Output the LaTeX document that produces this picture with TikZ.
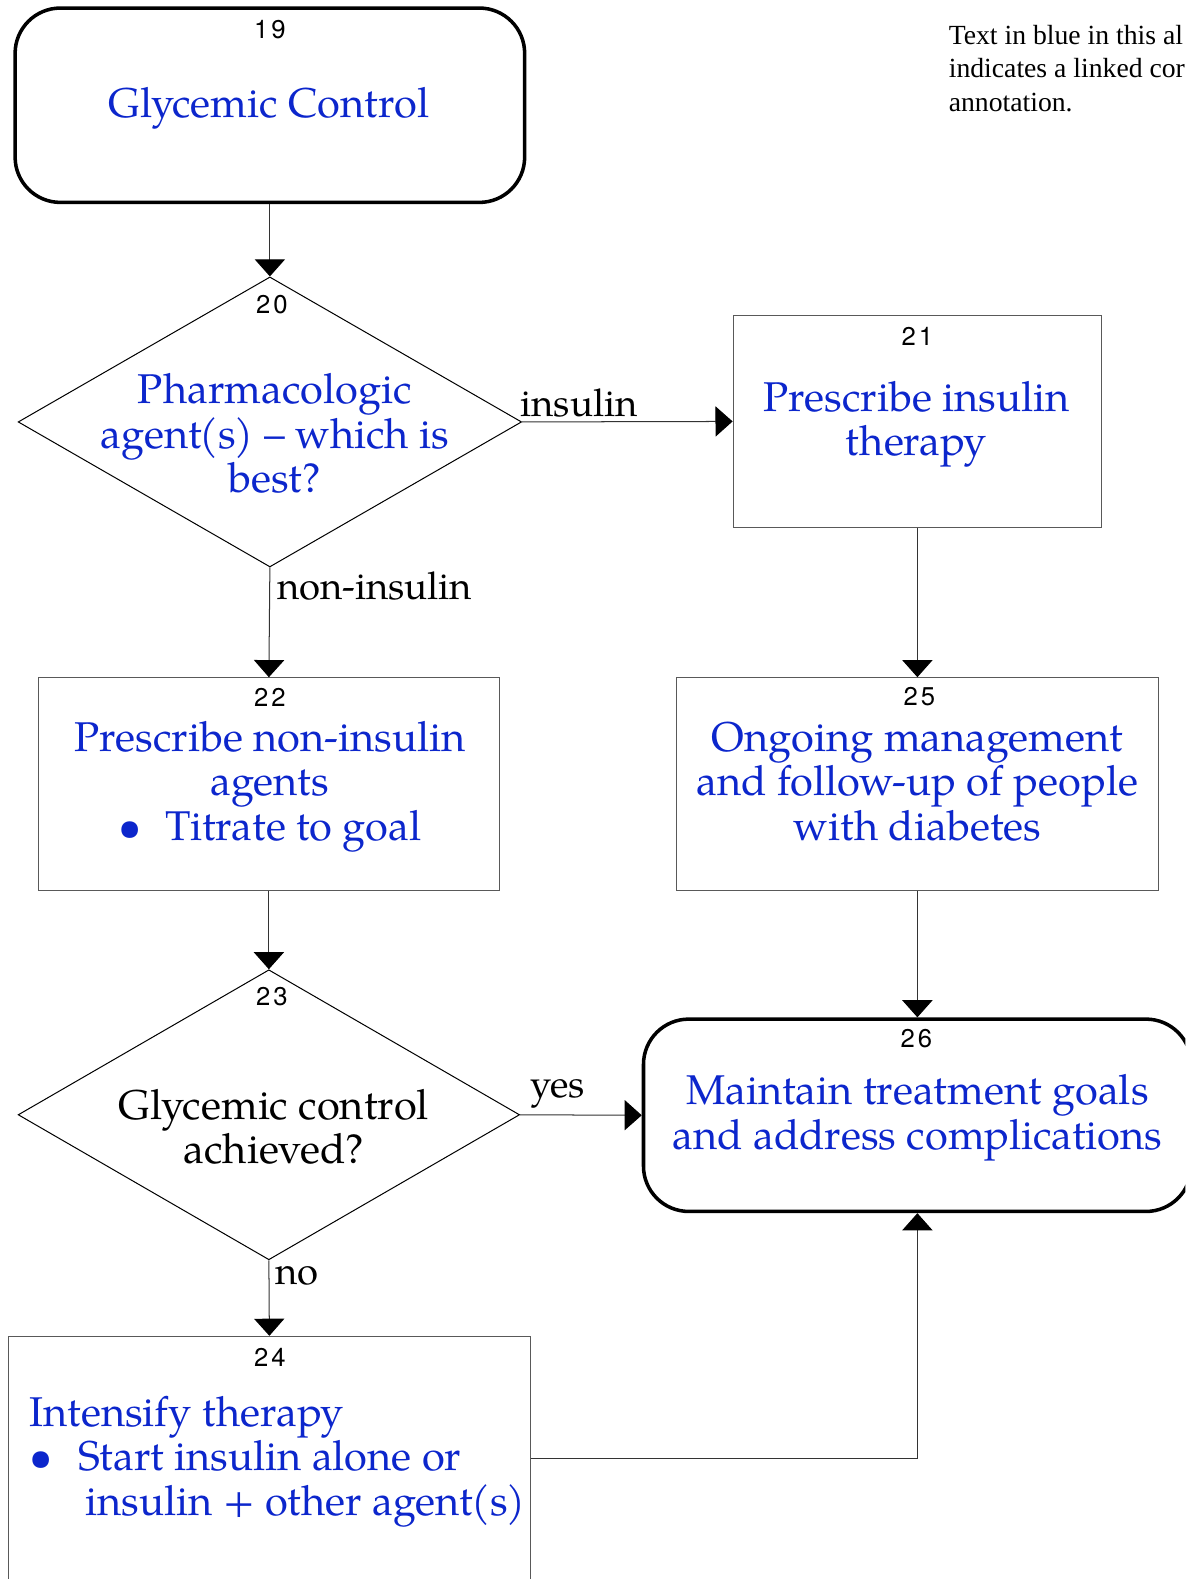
\documentclass[tikz,border=0pt]{standalone}
\usepackage{fontspec}
\usetikzlibrary{arrows.meta,shapes.geometric,calc}
\newfontfamily\pal{texgyrepagella-regular.otf}
\newfontfamily\helv{texgyreheros-regular.otf}[LetterSpace=12]
\newfontfamily\tms{Liberation Serif}
\definecolor{lnkblue}{RGB}{12,38,204}
\begin{document}
\begin{tikzpicture}[x=1pt,y=-1pt,
  bluetxt/.style={text=lnkblue, font=\pal\fontsize{41.3}{44}\selectfont, align=center, inner sep=0pt},
  blktxt/.style={text=black, font=\pal\fontsize{41.3}{44}\selectfont, align=center, inner sep=0pt},
  lbl/.style={text=black, font=\pal\fontsize{38}{44}\selectfont, inner sep=0pt},
  num/.style={font=\helv\fontsize{25.5}{30}\selectfont, inner sep=0pt},
  termbox/.style={draw=black, line width=3.5pt, rounded corners=45pt, rectangle, inner sep=0pt},
  procbox/.style={draw=black!65, line width=1pt, rectangle, inner sep=0pt},
  decide/.style={draw=black, line width=1pt, diamond, inner sep=0pt},
  flow/.style={draw=black!80, line width=1pt, -{Triangle[width=30pt,length=17pt,color=black]}},
]
\useasboundingbox (0,0) rectangle (1177,1568);
\clip (0,0) rectangle (1177,1568);
\fill[white] (0,0) rectangle (1177,1568);

% shapes
\node[termbox, minimum width=506pt, minimum height=193pt] (b19) at (268,104.5) {};
\node[decide, minimum width=500pt, minimum height=288pt] (d20) at (268,419) {};
\node[procbox, minimum width=366pt, minimum height=211pt] (b21) at (911,418.5) {};
\node[procbox, minimum width=458pt, minimum height=211pt] (b22) at (267,778.5) {};
\node[procbox, minimum width=478pt, minimum height=211pt] (b25) at (911,778.5) {};
\node[decide, minimum width=498pt, minimum height=288pt] (d23) at (267,1107) {};
\node[termbox, minimum width=544pt, minimum height=191pt] (b26) at (911,1107.5) {};
\node[procbox, minimum width=519pt, minimum height=273pt] (b24) at (267.5,1463.5) {};

% numbers
\node[num] (n19) at (268,29) {19};
\node[num] (n20) at (270,302) {20};
\node[num] (n21) at (911,334) {21};
\node[num] (n22) at (268,693) {22};
\node[num] (n25) at (913,692) {25};
\node[num] (n23) at (270,990) {23};
\node[num] (n26) at (910,1031) {26};
\node[num] (n24) at (268,1348) {24};

% texts
\node[bluetxt] (t19) at (267,108) {Glycemic Control};
\node[bluetxt] (t20) at (273,430.5) {Pharmacologic\\agent\kern-2pt(s\kern-1.5pt) – which is\\best?};
\node[bluetxt] (t21) at (910,421) {Prescribe insulin\\therapy};
\node[bluetxt] (t22) at (268,781) {Prescribe non-insulin\\agents\\•\hspace{24pt}Titrate to goal};
\node[bluetxt] (t25) at (911,776) {Ongoing management\\and follow-up of people\\with diabetes};
\node[blktxt] (t23) at (272,1119) {Glycemic control\\achieved?};
\node[bluetxt] (t26) at (911,1110) {Maintain treatment goals\\and address complications};
\node[bluetxt, align=left, anchor=west] (t24) at (29,1451.5) {Intensify therapy\\•\hspace{26pt}Start insulin alone or\\\hspace*{56pt}insulin + other agent\kern-2pt(s\kern-1.5pt)};

\node[font=\tms\fontsize{27.5}{33}\selectfont, align=left, anchor=west, inner sep=0pt] (note) at (942,68) {Text in blue in this al\\indicates a linked cor\\annotation.};

% connectors
\draw[flow] (b19.south) -- (d20.north);
\draw[flow] (d20.east) -- (b21.west);
\draw[flow] (d20.south) -- (b22.north);
\draw[flow] (b21.south) -- (b25.north);
\draw[flow] (b25.south) -- (b26.north);
\draw[flow] (b22.south) -- (d23.north);
\draw[flow] (d23.east) -- (b26.west);
\draw[flow] (d23.south) -- (b24.north);
\draw[flow] ([yshift=15.5pt]b24.east) -| (b26.south);

% labels
\node[lbl] (l1) at (575,400) {insulin};
\node[lbl] (l2) at (372,582) {non-insulin};
\node[lbl] (l3) at (554,1086) {yes};
\node[lbl] (l4) at (295,1267) {no};
\end{tikzpicture}
\end{document}
